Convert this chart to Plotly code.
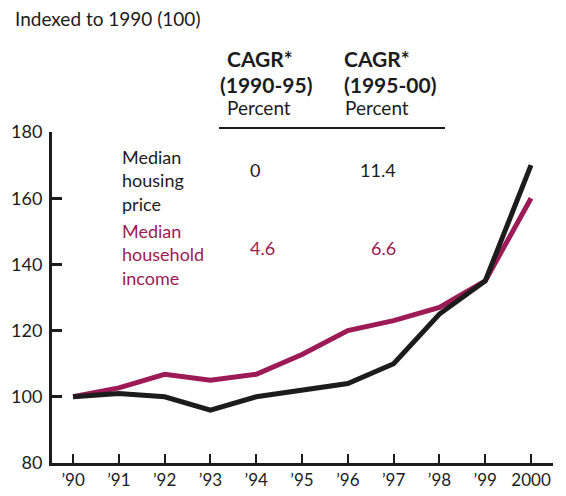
import plotly.graph_objects as go

years = [1990, 1991, 1992, 1993, 1994, 1995, 1996, 1997, 1998, 1999, 2000]
year_labels = ["’90", "’91", "’92", "’93", "’94", "’95", "’96", "’97", "’98", "’99", "2000"]
housing_price = [100, 101, 100, 96, 100, 102, 104, 110, 125, 135, 170]
household_income = [100, 102.7, 106.8, 105, 106.8, 112.8, 120, 123, 127, 135, 160]
y_ticks = [80, 100, 120, 140, 160, 180]

BLACK = "#1c1c1c"
MAROON = "#9c1a55"
FONT = "Lato"

fig = go.Figure()
fig.add_trace(go.Scatter(x=years, y=household_income, mode="lines",
                         line=dict(color=MAROON, width=5), hoverinfo="skip"))
fig.add_trace(go.Scatter(x=years, y=housing_price, mode="lines",
                         line=dict(color=BLACK, width=5), hoverinfo="skip"))

# page body has an 8px offset
OFF = 8
W, H = 566, 496
L, R, T, B = 52 - OFF, 13 + OFF, 132 - OFF, 33 + OFF

fig.update_layout(
    width=W, height=H,
    margin=dict(l=L, r=R, t=T, b=B, autoexpand=False),
    paper_bgcolor="white", plot_bgcolor="white",
    showlegend=False,
    font=dict(family=FONT, color=BLACK, size=18),
    xaxis=dict(range=[1989.54, 2000.48], tickvals=years, ticktext=year_labels,
               automargin=False,
               showgrid=False, zeroline=False, showline=True, linecolor=BLACK, linewidth=3,
               ticks="inside", ticklen=9, tickwidth=2, tickcolor=BLACK,
               tickfont=dict(size=17, family=FONT, color=BLACK)),
    yaxis=dict(range=[80, 180], tickvals=y_ticks,
               automargin=False,
               showgrid=False, zeroline=False, showline=True, linecolor=BLACK, linewidth=3,
               ticks="inside", ticklen=10, tickwidth=3, tickcolor=BLACK,
               ticklabelstandoff=3,
               tickfont=dict(size=18, family=FONT, color=BLACK)),
)

def px(x):
    return (x - OFF - L) / (W - L - R)

def py(y):
    return (H - B - (y - OFF)) / (H - T - B)

def ann(text, x, y, color=BLACK, size=18, xanchor="left", bold=False):
    if bold:
        text = "<b>" + text + "</b>"
    fig.add_annotation(text=text, x=px(x), y=py(y), xref="paper", yref="paper",
                       xanchor=xanchor, yanchor="middle", showarrow=False,
                       font=dict(size=size, color=color, family=FONT), align="left")

ann("Indexed to 1990 (100)", 13, 18, size=19)
ann("CAGR*", 225, 58, bold=True, size=21)
ann("(1990-95)", 218, 84, bold=True, size=21)
ann("Percent", 225, 108, size=19)
ann("CAGR*", 342, 58, bold=True, size=21)
ann("(1995-00)", 342, 84, bold=True, size=21)
ann("Percent", 343, 108, size=19)

fig.add_shape(type="line", xref="paper", yref="paper",
              x0=px(219), x1=px(445), y0=py(128), y1=py(128),
              line=dict(color=BLACK, width=2))

ann("Median<br>housing<br>price", 120, 180, size=18)
ann("0", 255, 170, size=18, xanchor="center")
ann("11.4", 398, 170, size=18, xanchor="right")
ann("Median<br>household<br>income", 120, 254, color=MAROON, size=18)
ann("4.6", 262, 248, color=MAROON, size=18, xanchor="center")
ann("6.6", 398, 248, color=MAROON, size=18, xanchor="right")

fig.write_html("out.html")
